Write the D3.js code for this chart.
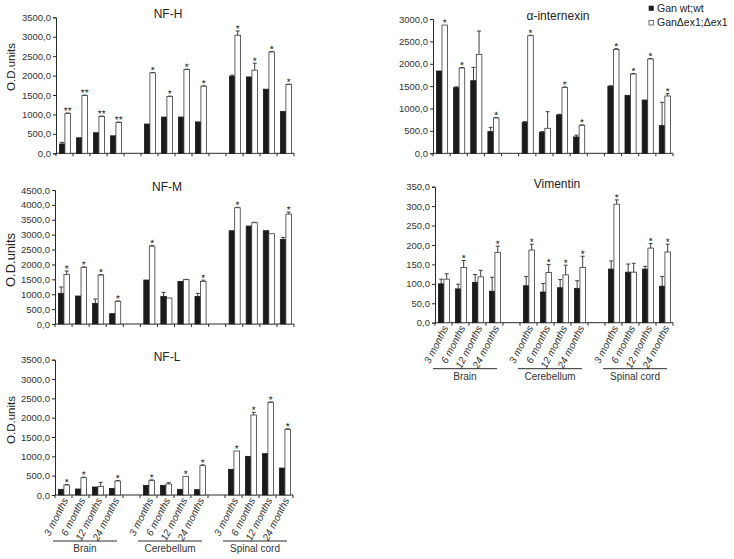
<!DOCTYPE html>
<html>
<head>
<meta charset="utf-8">
<script src="https://cdn.jsdelivr.net/npm/d3@7"></script>
<style>
  body { margin: 0; background: #fff; }
  svg { font-family: "Liberation Sans", Arial, sans-serif; }
</style>
</head>
<body>
<svg id="chart" width="734" height="559"></svg>
<script>
// categories
const ages    = ["3 months", "6 months", "12 months", "24 months"];
const regions = ["Brain", "Cerebellum", "Spinal cord"];
const seriesNames = ["Gan wt;wt", "GanΔex1;Δex1"];

// NF-H
const nfhWt     = [240, 400, 530, 450, 753, 933, 933, 808, 1985, 1965, 1650, 1078];
const nfhWtErr  = [40, 0, 0, 0, 0, 0, 0, 0, 25, 0, 0, 0];
const nfhKo     = [1027, 1488, 949, 795, 2070, 1462, 2155, 1727, 3038, 2139, 2608, 1770];
const nfhKoErr  = [10, 10, 10, 10, 10, 10, 10, 10, 110, 180, 10, 10];
const nfhStars  = ["**", "**", "**", "**", "*", "*", "*", "*", "*", "*", "*", "*"];
const nfhTicks  = [0, 500, 1000, 1500, 2000, 2500, 3000, 3500];

// alpha-internexin
const intWt     = [1838, 1466, 1622, 484, 692, 469, 856, 365, 1496, 1295, 1190, 618];
const intWtErr  = [0, 20, 298, 96, 15, 15, 15, 40, 15, 0, 0, 520];
const intKo     = [2865, 1905, 2210, 789, 2627, 558, 1473, 625, 2321, 1771, 2106, 1280];
const intKoErr  = [0, 10, 521, 10, 10, 372, 10, 10, 15, 10, 10, 52];
const intStars  = ["*", "*", "", "*", "*", "", "*", "*", "*", "*", "*", "*"];
const intTicks  = [0, 500, 1000, 1500, 2000, 2500, 3000];

// NF-M
const nfmWt     = [1029, 940, 694, 347, 1477, 928, 1432, 928, 3132, 3289, 3132, 2841];
const nfmWtErr  = [213, 0, 145, 0, 0, 135, 0, 100, 0, 0, 0, 67];
const nfmKo     = [1667, 1902, 1644, 761, 2617, 873, 1488, 1432, 3904, 3400, 3031, 3691];
const nfmKoErr  = [112, 15, 15, 15, 15, 0, 10, 40, 15, 15, 0, 67];
const nfmStars  = ["*", "*", "*", "*", "*", "", "", "*", "*", "", "", "*"];
const nfmTicks  = [0, 500, 1000, 1500, 2000, 2500, 3000, 3500, 4000, 4500];

// Vimentin
const vimWt     = [100, 87, 104, 81, 95, 79, 90, 88, 138, 130, 138, 94];
const vimWtErr  = [12, 12, 20, 36, 24, 22, 21, 20, 21, 21, 7, 25];
const vimKo     = [112, 142, 118, 181, 187, 129, 123, 142, 305, 130, 192, 182];
const vimKoErr  = [14, 18, 17, 16, 15, 21, 25, 29, 11, 23, 12, 20];
const vimStars  = ["", "*", "", "*", "*", "*", "*", "*", "*", "", "*", "*"];
const vimTicks  = [0, 50, 100, 150, 200, 250, 300, 350];

// NF-L
const nflWt     = [147, 155, 207, 172, 250, 250, 147, 138, 664, 1000, 1069, 698];
const nflWtErr  = [0, 0, 0, 0, 0, 0, 0, 0, 0, 0, 0, 0];
const nflKo     = [259, 448, 224, 362, 371, 284, 483, 759, 1138, 2069, 2397, 1698];
const nflKoErr  = [10, 15, 104, 10, 20, 35, 0, 20, 0, 70, 10, 15];
const nflStars  = ["*", "*", "", "*", "*", "", "*", "*", "*", "*", "*", "*"];
const nflTicks  = [0, 500, 1000, 1500, 2000, 2500, 3000, 3500];

const panels = [
  { title: "NF-H", wt: nfhWt, wtErr: nfhWtErr, ko: nfhKo, koErr: nfhKoErr, stars: nfhStars, ticks: nfhTicks,
    x0: 56, x1: 294, yTop: 17.3, yBot: 153.3, titleX: 168, yLabel: 67, yLabelSize: 11.5 },
  { title: "α-internexin", wt: intWt, wtErr: intWtErr, ko: intKo, koErr: intKoErr, stars: intStars, ticks: intTicks,
    x0: 433, x1: 673, yTop: 19, yBot: 153.3, titleX: 558 },
  { title: "NF-M", wt: nfmWt, wtErr: nfmWtErr, ko: nfmKo, koErr: nfmKoErr, stars: nfmStars, ticks: nfmTicks,
    x0: 55, x1: 294, yTop: 190, yBot: 324, titleX: 167, yLabel: 260, yLabelSize: 13 },
  { title: "Vimentin", wt: vimWt, wtErr: vimWtErr, ko: vimKo, koErr: vimKoErr, stars: vimStars, ticks: vimTicks,
    x0: 435, x1: 673, yTop: 186.7, yBot: 322.7, titleX: 557, xLabels: true },
  { title: "NF-L", wt: nflWt, wtErr: nflWtErr, ko: nflKo, koErr: nflKoErr, stars: nflStars, ticks: nflTicks,
    x0: 55, x1: 293, yTop: 359.7, yBot: 495, titleX: 167, yLabel: 420, yLabelSize: 11.5, xLabels: true }
];

const svg = d3.select("#chart");
const ink = "#2a2a2a";
const locale = d3.formatLocale({ decimal: ",", thousands: "", grouping: [3], currency: ["", ""] });
const fmt = locale.format(".1f");

// slots: 4 ages per region, one empty slot between regions
const slots = [];
regions.forEach((r, ri) => {
  ages.forEach(a => slots.push(r + "|" + a));
  if (ri < regions.length - 1) slots.push("gap" + ri);
});

function drawPanel(p) {
  const g = svg.append("g");
  const x = d3.scaleBand().domain(slots).range([p.x0, p.x1]);
  const bw = x.bandwidth();
  const sub = d3.scaleBand().domain([0, 1]).range([bw * 0.2, bw * 0.85]);
  const y = d3.scaleLinear().domain([0, d3.max(p.ticks)]).range([p.yBot, p.yTop]);

  const rows = p.wt.map((v, i) => ({
    slot: regions[Math.floor(i / 4)] + "|" + ages[i % 4],
    vals: [
      { s: 0, v: v, e: p.wtErr[i] },
      { s: 1, v: p.ko[i], e: p.koErr[i] }
    ],
    star: p.stars[i]
  }));

  // y axis
  const ya = g.append("g")
    .attr("transform", `translate(${p.x0},0)`)
    .call(d3.axisLeft(y).tickValues(p.ticks).tickSize(3).tickPadding(2).tickFormat(fmt));
  ya.select(".domain").attr("stroke", ink);
  ya.selectAll(".tick line").attr("stroke", ink);
  ya.selectAll(".tick text").attr("fill", "#333").attr("font-size", 9.5)
    .attr("font-family", "'Liberation Sans', Arial, sans-serif");

  // x axis with ticks between slots
  g.append("line")
    .attr("x1", p.x0).attr("x2", p.x1)
    .attr("y1", p.yBot).attr("y2", p.yBot)
    .attr("stroke", ink);
  const bounds = slots.map(s => x(s)).concat([p.x1]);
  g.selectAll("line.xt").data(bounds).join("line")
    .attr("class", "xt")
    .attr("x1", d => d).attr("x2", d => d)
    .attr("y1", p.yBot).attr("y2", p.yBot + 3)
    .attr("stroke", ink);

  const cat = g.selectAll("g.cat").data(rows).join("g")
    .attr("class", "cat")
    .attr("transform", d => `translate(${x(d.slot)},0)`);

  // error bars (drawn behind the bars)
  const eb = cat.selectAll("g.err").data(d => d.vals.filter(v => v.e > 0)).join("g").attr("class", "err");
  eb.append("line")
    .attr("x1", d => sub(d.s) + sub.bandwidth() / 2)
    .attr("x2", d => sub(d.s) + sub.bandwidth() / 2)
    .attr("y1", d => y(d.v)).attr("y2", d => y(d.v + d.e))
    .attr("stroke", ink).attr("stroke-width", 0.9);
  eb.append("line")
    .attr("x1", d => sub(d.s) + sub.bandwidth() / 2 - 2)
    .attr("x2", d => sub(d.s) + sub.bandwidth() / 2 + 2)
    .attr("y1", d => y(d.v + d.e)).attr("y2", d => y(d.v + d.e))
    .attr("stroke", ink).attr("stroke-width", 0.9);

  cat.selectAll("rect").data(d => d.vals).join("rect")
    .attr("x", d => sub(d.s))
    .attr("width", sub.bandwidth())
    .attr("y", d => y(d.v))
    .attr("height", d => y(0) - y(d.v))
    .attr("fill", d => d.s === 0 ? "#1b1b1b" : "#fff")
    .attr("stroke", d => d.s === 0 ? "#1b1b1b" : "#3a3a3a")
    .attr("stroke-width", 0.8);

  // significance stars; a hair of rotation keeps the tiny glyphs grey-antialiased
  g.selectAll("text.star").data(rows.filter(d => d.star)).join("text")
    .attr("class", "star")
    .attr("transform", d => `translate(${x(d.slot) + sub(1) + sub.bandwidth() / 2},${y(d.vals[1].v + d.vals[1].e) + 1}) rotate(0.2)`)
    .attr("text-anchor", "middle")
    .attr("font-size", 10)
    .attr("fill", "#222")
    .text(d => d.star);

  // title
  g.append("text")
    .attr("x", p.titleX).attr("y", p.yTop + 1)
    .attr("text-anchor", "middle")
    .attr("font-size", 12).attr("fill", "#222")
    .text(p.title);

  if (p.yLabel) {
    g.append("text")
      .attr("transform", `translate(15,${p.yLabel}) rotate(-90)`)
      .attr("text-anchor", "middle")
      .attr("font-size", p.yLabelSize).attr("fill", "#222")
      .text("O.D.units");
  }

  if (p.xLabels) {
    g.selectAll("text.age").data(rows).join("text")
      .attr("class", "age")
      .attr("transform", d => `translate(${x(d.slot) + bw / 2 + 5},${p.yBot + 5}) rotate(-63)`)
      .attr("text-anchor", "end")
      .attr("font-size", 10).attr("font-style", "italic").attr("fill", "#333")
      .text(d => d.slot.split("|")[1]);

    const lineY = p.yBot + 46;
    const grp = g.selectAll("g.region").data(regions).join("g").attr("class", "region");
    grp.append("line")
      .attr("x1", r => x(r + "|" + ages[0]) - 2)
      .attr("x2", r => x(r + "|" + ages[3]) + bw - 6)
      .attr("y1", lineY).attr("y2", lineY)
      .attr("stroke", ink).attr("stroke-width", 1);
    grp.append("text")
      .attr("x", r => (x(r + "|" + ages[0]) + x(r + "|" + ages[3]) + bw - 8) / 2)
      .attr("y", lineY + 11)
      .attr("text-anchor", "middle")
      .attr("font-size", 10).attr("fill", "#333")
      .text(r => r);
  }
}

panels.forEach(drawPanel);

// legend
const legend = svg.append("g").attr("transform", "translate(649,6)");
const li = legend.selectAll("g").data(seriesNames).join("g")
  .attr("transform", (d, i) => `translate(0,${i * 14.5})`);
li.append("rect")
  .attr("width", 4.5).attr("height", 4.5)
  .attr("fill", (d, i) => i === 0 ? "#1b1b1b" : "#fff")
  .attr("stroke", "#333").attr("stroke-width", 0.7);
li.append("text")
  .attr("x", 8).attr("y", 5.5)
  .attr("font-size", 10.5).attr("fill", "#222")
  .text(d => d);
</script>
</body>
</html>
